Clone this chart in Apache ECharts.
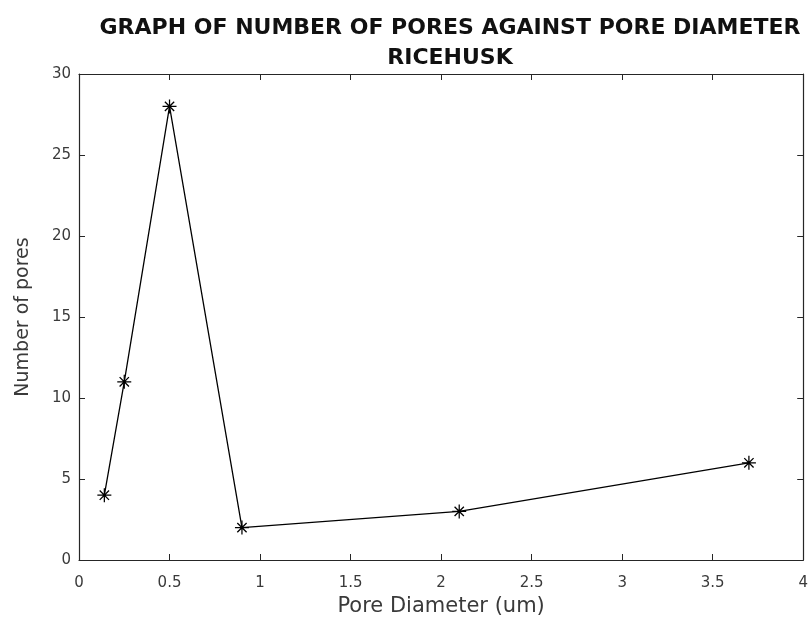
<!DOCTYPE html>
<html>
<head>
<meta charset="utf-8">
<title>Number of pores against pore diameter - Ricehusk</title>
<script src="https://cdn.jsdelivr.net/npm/echarts@6/dist/echarts.min.js"></script>
<style>
  html, body { margin: 0; padding: 0; background: #ffffff; }
  #chart { width: 811px; height: 631px; }
</style>
</head>
<body>
<div id="chart"></div>
<script>
// Measured pore diameters (um) and the count of pores at each diameter
const poreDiameter = [0.14, 0.25, 0.5, 0.9, 2.1, 3.7];
const poreCount = [4, 11, 28, 2, 3, 6];

// Axis ranges and tick spacing
const xTicks = { min: 0, max: 4, interval: 0.5 };
const yTicks = { min: 0, max: 30, interval: 5 };

const titleLines = ['GRAPH OF NUMBER OF PORES AGAINST PORE DIAMETER', 'RICEHUSK'];
const xAxisTitle = 'Pore Diameter (um)';
const yAxisTitle = 'Number of pores';

// Asterisk marker: horizontal, vertical and two diagonal strokes
const asterisk = 'path://M0 9.1L20 9.1L20 10.9L0 10.9Z' +
  'M9.1 0L10.9 0L10.9 20L9.1 20Z' +
  'M2.7 4.0L4.0 2.7L17.3 16.0L16.0 17.3Z' +
  'M16.0 2.7L17.3 4.0L4.0 17.3L2.7 16.0Z';

const axisColor = '#262626';
const labelColor = '#3a3a3a';
const font = 'DejaVu Sans';

const chart = echarts.init(document.getElementById('chart'), null, { renderer: 'canvas' });

// Ticks point into the plot box on all four sides
const tickStyle = { inside: true, length: 6, lineStyle: { color: axisColor, width: 1 } };
const lineStyle = { onZero: false, lineStyle: { color: axisColor, width: 1.2 } };

chart.setOption({
  backgroundColor: '#ffffff',
  animation: false,
  title: {
    text: titleLines.join('\n'),
    left: 445,
    textAlign: 'center',
    top: 8,
    textStyle: {
      fontFamily: font,
      fontWeight: 'bold',
      fontSize: 22,
      lineHeight: 30,
      color: '#111111'
    }
  },
  grid: { left: 79, right: 7, top: 74, bottom: 71, containLabel: false },
  xAxis: [
    {
      type: 'value',
      position: 'bottom',
      min: xTicks.min, max: xTicks.max, interval: xTicks.interval,
      name: xAxisTitle,
      nameLocation: 'middle',
      nameGap: 33,
      nameTextStyle: { fontFamily: font, fontSize: 21, color: labelColor },
      axisLine: { show: true, ...lineStyle },
      axisTick: tickStyle,
      axisLabel: { fontFamily: font, fontSize: 15, color: labelColor, margin: 16 },
      splitLine: { show: false }
    },
    {
      type: 'value',
      position: 'top',
      min: xTicks.min, max: xTicks.max, interval: xTicks.interval,
      axisLine: { show: true, ...lineStyle },
      axisTick: tickStyle,
      axisLabel: { show: false },
      splitLine: { show: false }
    }
  ],
  yAxis: [
    {
      type: 'value',
      position: 'left',
      min: yTicks.min, max: yTicks.max, interval: yTicks.interval,
      name: yAxisTitle,
      nameLocation: 'middle',
      nameGap: 46,
      nameTextStyle: { fontFamily: font, fontSize: 19, color: labelColor },
      axisLine: { show: true, ...lineStyle },
      axisTick: tickStyle,
      axisLabel: { fontFamily: font, fontSize: 15, color: labelColor, margin: 8 },
      splitLine: { show: false }
    },
    {
      type: 'value',
      position: 'right',
      min: yTicks.min, max: yTicks.max, interval: yTicks.interval,
      axisLine: { show: true, ...lineStyle },
      axisTick: tickStyle,
      axisLabel: { show: false },
      splitLine: { show: false }
    }
  ],
  series: [
    {
      type: 'line',
      xAxisIndex: 0,
      yAxisIndex: 0,
      data: poreDiameter.map((d, i) => [d, poreCount[i]]),
      symbol: asterisk,
      symbolSize: 14,
      showAllSymbol: true,
      itemStyle: { color: '#000000' },
      lineStyle: { color: '#000000', width: 1.3 },
      emphasis: { disabled: true }
    }
  ]
});
</script>
</body>
</html>
